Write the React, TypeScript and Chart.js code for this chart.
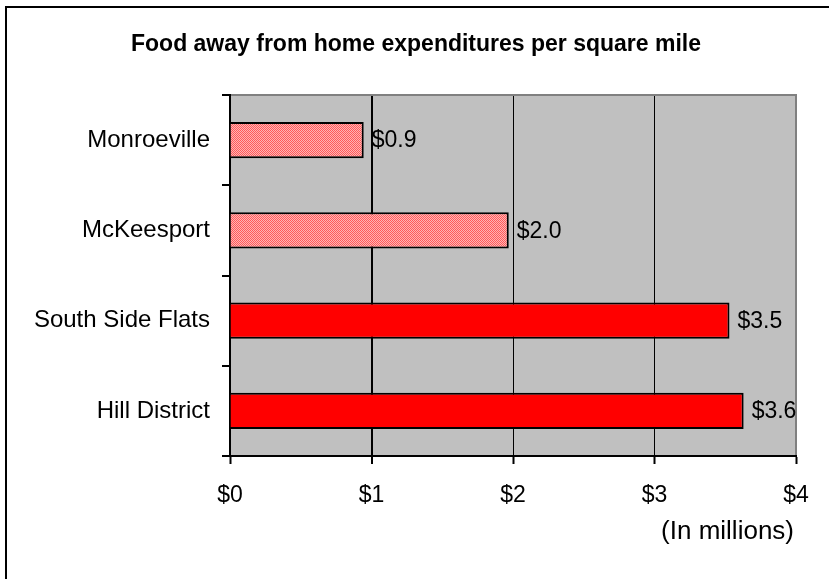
import { useEffect, useRef } from "react";
import { Chart, registerables } from "chart.js";

Chart.register(...registerables);

// Data
const categories = ["Monroeville", "McKeesport", "South Side Flats", "Hill District"];
const values = [0.945, 1.97, 3.53, 3.63];
const hatched = [true, true, false, false];
const xTicks = [0, 1, 2, 3, 4];
const titleText = "Food away from home expenditures per square mile";
const unitText = "(In millions)";

const FONT = "'Liberation Sans', Arial, Helvetica, sans-serif";
const W = 829;
const H = 579;

// fine checkerboard fill for the lighter bars
function makeCheckerPattern(ctx: CanvasRenderingContext2D) {
  const c = document.createElement("canvas");
  c.width = 2;
  c.height = 2;
  const g = c.getContext("2d")!;
  g.fillStyle = "#ffb4b4";
  g.fillRect(0, 0, 2, 2);
  g.fillStyle = "#ff5a5a";
  g.fillRect(0, 0, 1, 1);
  g.fillRect(1, 1, 1, 1);
  return ctx.createPattern(c, "repeat")!;
}

const decorPlugin = {
  id: "decor",
  beforeDraw(chart: any) {
    const { ctx, chartArea: a } = chart;
    ctx.save();
    ctx.fillStyle = "#ffffff";
    ctx.fillRect(0, 0, chart.width, chart.height);
    ctx.fillStyle = "#c0c0c0";
    ctx.fillRect(a.left, a.top, a.right - a.left, a.bottom - a.top);
    ctx.restore();
  },
  beforeDatasetsDraw(chart: any) {
    const { ctx, chartArea: a } = chart;
    ctx.save();
    ctx.strokeStyle = "#808080";
    ctx.lineWidth = 2;
    ctx.beginPath();
    ctx.moveTo(a.left + 1, a.top);
    ctx.lineTo(a.right, a.top);
    ctx.lineTo(a.right, a.bottom - 1);
    ctx.stroke();
    ctx.restore();
  },
  afterDraw(chart: any) {
    const { ctx, chartArea: a } = chart;
    ctx.save();
    // outer frame
    ctx.strokeStyle = "#000000";
    ctx.lineWidth = 2;
    ctx.beginPath();
    ctx.moveTo(6, H);
    ctx.lineTo(6, 7);
    ctx.lineTo(W, 7);
    ctx.stroke();

    // title
    ctx.fillStyle = "#000000";
    ctx.font = `bold 23px ${FONT}`;
    ctx.textAlign = "center";
    ctx.textBaseline = "middle";
    ctx.fillText(titleText, 416, 45);

    // unit note
    ctx.font = `26px ${FONT}`;
    ctx.textAlign = "right";
    ctx.fillText(unitText, a.right - 2, 532);

    // value labels
    ctx.font = `23px ${FONT}`;
    ctx.textAlign = "left";
    const meta = chart.getDatasetMeta(0);
    meta.data.forEach((el: any, i: number) => {
      ctx.fillText("$" + values[i].toFixed(1), el.x + 8, el.y + 1);
    });
    ctx.restore();
  },
};

export default function App() {
  const ref = useRef<HTMLCanvasElement | null>(null);

  useEffect(() => {
    const canvas = ref.current!;
    const ctx = canvas.getContext("2d")!;
    const pattern = makeCheckerPattern(ctx);

    const chart = new Chart(canvas, {
      type: "bar",
      data: {
        labels: categories,
        datasets: [
          {
            data: values,
            backgroundColor: hatched.map((h) => (h ? pattern : "#ff0000")) as any,
            borderColor: "#000000",
            borderWidth: 2,
            borderSkipped: "start",
            barPercentage: 0.4,
            categoryPercentage: 1,
          },
        ],
      },
      options: {
        indexAxis: "y",
        responsive: false,
        animation: false,
        devicePixelRatio: 1,
        layout: { padding: { top: 95, right: 33, left: 0, bottom: 0 } },
        plugins: {
          legend: { display: false },
          title: { display: false },
          tooltip: { enabled: false },
        },
        scales: {
          x: {
            type: "linear",
            min: 0,
            max: 4,
            afterBuildTicks: (s: any) => {
              s.ticks = xTicks.map((v) => ({ value: v }));
            },
            ticks: {
              callback: (v: any) => "$" + v,
              font: { family: FONT, size: 23 },
              color: "#000000",
              padding: 18,
              maxRotation: 0,
            },
            grid: {
              color: (c: any) =>
                c.index === 0 || c.index === xTicks.length - 1 ? "rgba(0,0,0,0)" : "#000000",
              lineWidth: (c: any) => (c.index === 1 ? 2 : 1),
              tickColor: "#000000",
              tickWidth: 2,
              tickLength: 8,
            },
            border: { color: "#000000", width: 2 },
            afterFit: (s: any) => {
              s.height = 123;
            },
          },
          y: {
            type: "category",
            offset: true,
            ticks: {
              font: { family: FONT, size: 24 },
              color: "#000000",
              padding: 12,
            },
            grid: {
              offset: true,
              drawOnChartArea: false,
              color: "#000000",
              lineWidth: 2,
              tickColor: "#000000",
              tickWidth: 2,
              tickLength: 8,
            },
            border: { color: "#000000", width: 2 },
            afterFit: (s: any) => {
              s.width = 230;
            },
          },
        },
      },
      plugins: [decorPlugin],
    });

    return () => chart.destroy();
  }, []);

  return (
    <div style={{ position: "fixed", left: 0, top: 0, width: W, height: H, background: "#fff" }}>
      <canvas ref={ref} width={W} height={H} style={{ display: "block", width: W, height: H }} />
    </div>
  );
}
